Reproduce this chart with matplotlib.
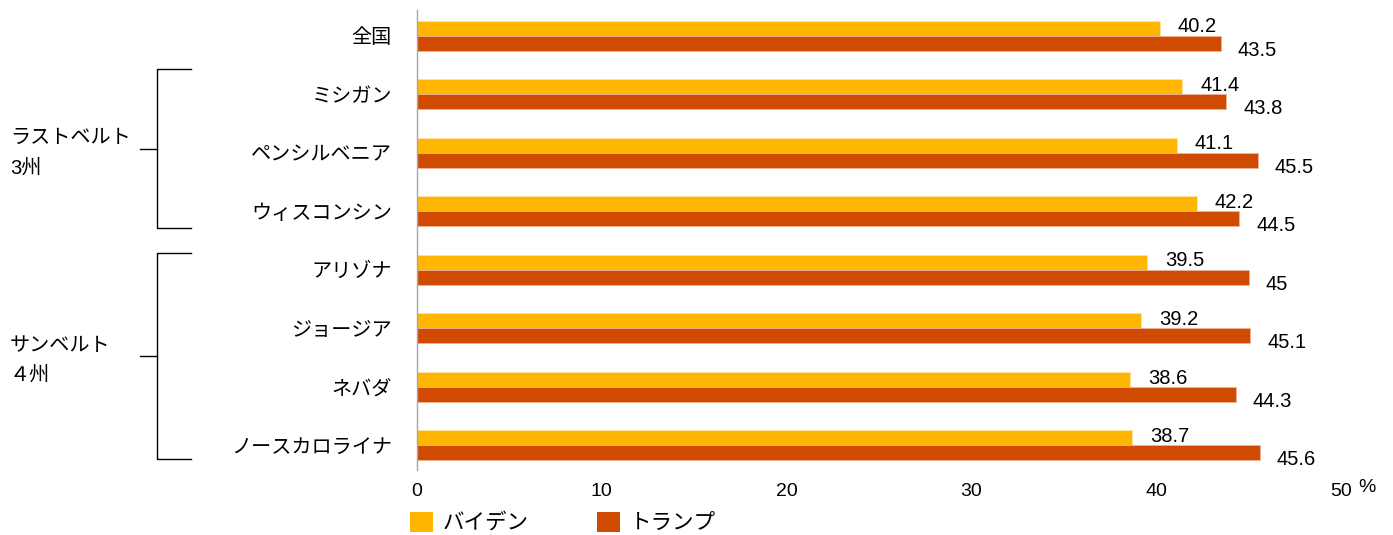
import numpy as np
import matplotlib
matplotlib.use("Agg")
import matplotlib.pyplot as plt
import matplotlib.transforms as mtransforms
from matplotlib.patches import Patch

plt.rcParams['font.family'] = ['Liberation Sans', 'Noto Sans CJK JP', 'DejaVu Sans']

categories = ["全国", "ミシガン", "ペンシルベニア", "ウィスコンシン",
              "アリゾナ", "ジョージア", "ネバダ", "ノースカロライナ"]
biden = [40.2, 41.4, 41.1, 42.2, 39.5, 39.2, 38.6, 38.7]
trump = [43.5, 43.8, 45.5, 44.5, 45.0, 45.1, 44.3, 45.6]
series_names = ["バイデン", "トランプ"]
xticks = [0, 10, 20, 30, 40, 50]
group_labels = ["ラストベルト\n3州", "サンベルト\n４州"]

YELLOW = "#FFB600"
ORANGE = "#D04A02"

W, H = 1393, 535
fig = plt.figure(figsize=(W / 100, H / 100), dpi=100)
ax = fig.add_axes([417 / W, (H - 470) / H, 924 / W, 460 / H])

y = np.arange(len(categories))
h = 0.256
ax.barh(y - h / 2, biden, height=h, color=YELLOW, edgecolor="#FFE3A0", linewidth=0.5)
ax.barh(y + h / 2, trump, height=h, color=ORANGE, edgecolor="#F2B59A", linewidth=0.5)

ax.set_xlim(0, 50)
ax.set_ylim(7.42, -0.44)

for s in ["top", "right", "bottom"]:
    ax.spines[s].set_visible(False)
ax.spines["left"].set_color("#A6A6A6")
ax.spines["left"].set_linewidth(1)

ax.set_yticks(y)
ax.set_yticklabels(categories, fontsize=14.5)
ax.tick_params(axis="y", length=0, pad=18)
ax.set_xticks(xticks)
ax.set_xticklabels([str(t) for t in xticks], fontsize=14)
ax.tick_params(axis="x", length=0, pad=9)

# percent sign after last tick
tr_pct = mtransforms.blended_transform_factory(ax.transData, ax.transAxes)
ax.text(51.4, -18 / 460, "%", transform=tr_pct, fontsize=14, ha="center", va="center")

for i, v in enumerate(biden):
    ax.annotate(f"{v:g}", xy=(v, i - h / 2), xytext=(13, 1), textcoords="offset points",
                ha="left", va="center", fontsize=14.5)
for i, v in enumerate(trump):
    ax.annotate(f"{v:g}", xy=(v, i + h / 2), xytext=(12, -5), textcoords="offset points",
                ha="left", va="center", fontsize=14.5)

# group brackets
tr = mtransforms.blended_transform_factory(fig.transFigure, ax.transData)
brackets = [(0.57, 3.29), (3.71, 7.24)]
for (top, bot), lab in zip(brackets, group_labels):
    xa, xb, xc = 140 / W, 157 / W, 191 / W
    ax.plot([xc, xb, xb, xc], [top, top, bot, bot], transform=tr, color="black",
            lw=1, clip_on=False)
    mid = (top + bot) / 2
    ax.plot([xa, xb], [mid, mid], transform=tr, color="black", lw=1, clip_on=False)
    ax.text(10 / W, mid + 0.07, lab, transform=tr, ha="left", va="center",
            fontsize=14.5, linespacing=1.75)

handles = [Patch(facecolor=YELLOW), Patch(facecolor=ORANGE)]
fig.legend(handles, series_names, loc="center left", bbox_to_anchor=(410 / W, 11.5 / H),
           ncol=2, frameon=False, fontsize=15.5, handlelength=1.05, handleheight=1.05,
           handletextpad=0.45, columnspacing=3.2, borderpad=0, borderaxespad=0)

fig.savefig("out.png", dpi=100)
